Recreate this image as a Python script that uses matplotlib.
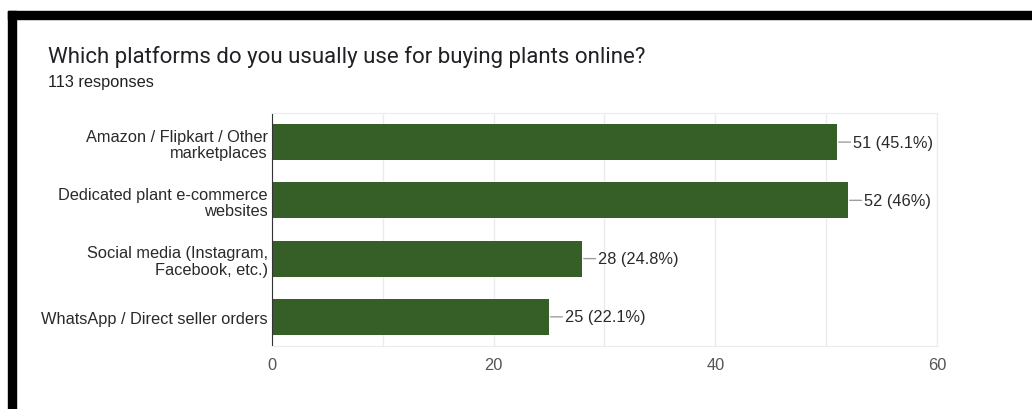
import matplotlib.pyplot as plt
from matplotlib.patches import Rectangle

plt.rcParams['font.family'] = ['Liberation Sans', 'DejaVu Sans']

# survey answers, top to bottom
platforms = ['Amazon / Flipkart / Other\nmarketplaces',
             'Dedicated plant e-commerce\nwebsites',
             'Social media (Instagram,\nFacebook, etc.)',
             'WhatsApp / Direct seller orders']
counts = [51, 52, 28, 25]
percents = ['45.1%', '46%', '24.8%', '22.1%']
total = 113
xticks = [0, 20, 40, 60]

bar_col = '#365e27'
fs = 11.8

fig = plt.figure(figsize=(10.32, 4.10), dpi=100)
ax = fig.add_axes([0.2636, 0.1537, 0.6443, 0.5683])

ypos = list(range(len(platforms)))
ax.barh(ypos, counts, height=0.62, color=bar_col, zorder=2)
ax.set_ylim(len(platforms) - 0.5, -0.5)
ax.set_xlim(0, 60)

# value labels with a short leader line
for y, c, p in zip(ypos, counts, percents):
    ax.annotate(f'{c} ({p})', xy=(c, y), xytext=(16, 0), textcoords='offset pixels',
                ha='left', va='center', fontsize=fs, color='#2a2a2a',
                arrowprops=dict(arrowstyle='-', color='#9e9e9e', lw=1,
                                shrinkA=0, shrinkB=1))

ax.set_yticks(ypos)
ax.set_yticklabels(platforms, fontsize=fs, color='#2a2a2a', linespacing=1.12)
ax.set_xticks(xticks)
ax.set_xticklabels([str(t) for t in xticks], fontsize=fs, color='#555555')
ax.xaxis.set_minor_locator(plt.MultipleLocator(10))
ax.tick_params(axis='y', length=0, pad=3)
ax.tick_params(axis='x', length=0, pad=8)
ax.tick_params(which='minor', length=0)
ax.grid(axis='x', which='both', color='#ebebeb', lw=1, zorder=0)
ax.set_axisbelow(True)
for side in ['top', 'right', 'bottom']:
    ax.spines[side].set_color('#ebebeb')
ax.spines['left'].set_color('#333333')

fig.text(0.0465, 0.8463, 'Which platforms do you usually use for buying plants online?',
         fontsize=16, color='#202124', va='baseline', family=['Roboto', 'DejaVu Sans'])
fig.text(0.0465, 0.7878, f'{total} responses', fontsize=11.8, color='#202124', va='baseline')

# black frame along the top and left edge
fig.patches.append(Rectangle((0.00775, 0.9512), 1.0, 0.0195, transform=fig.transFigure,
                             color='black', zorder=5))
fig.patches.append(Rectangle((0.00775, 0.0), 0.00775, 0.9707, transform=fig.transFigure,
                             color='black', zorder=5))

fig.savefig('out.png', dpi=100)
